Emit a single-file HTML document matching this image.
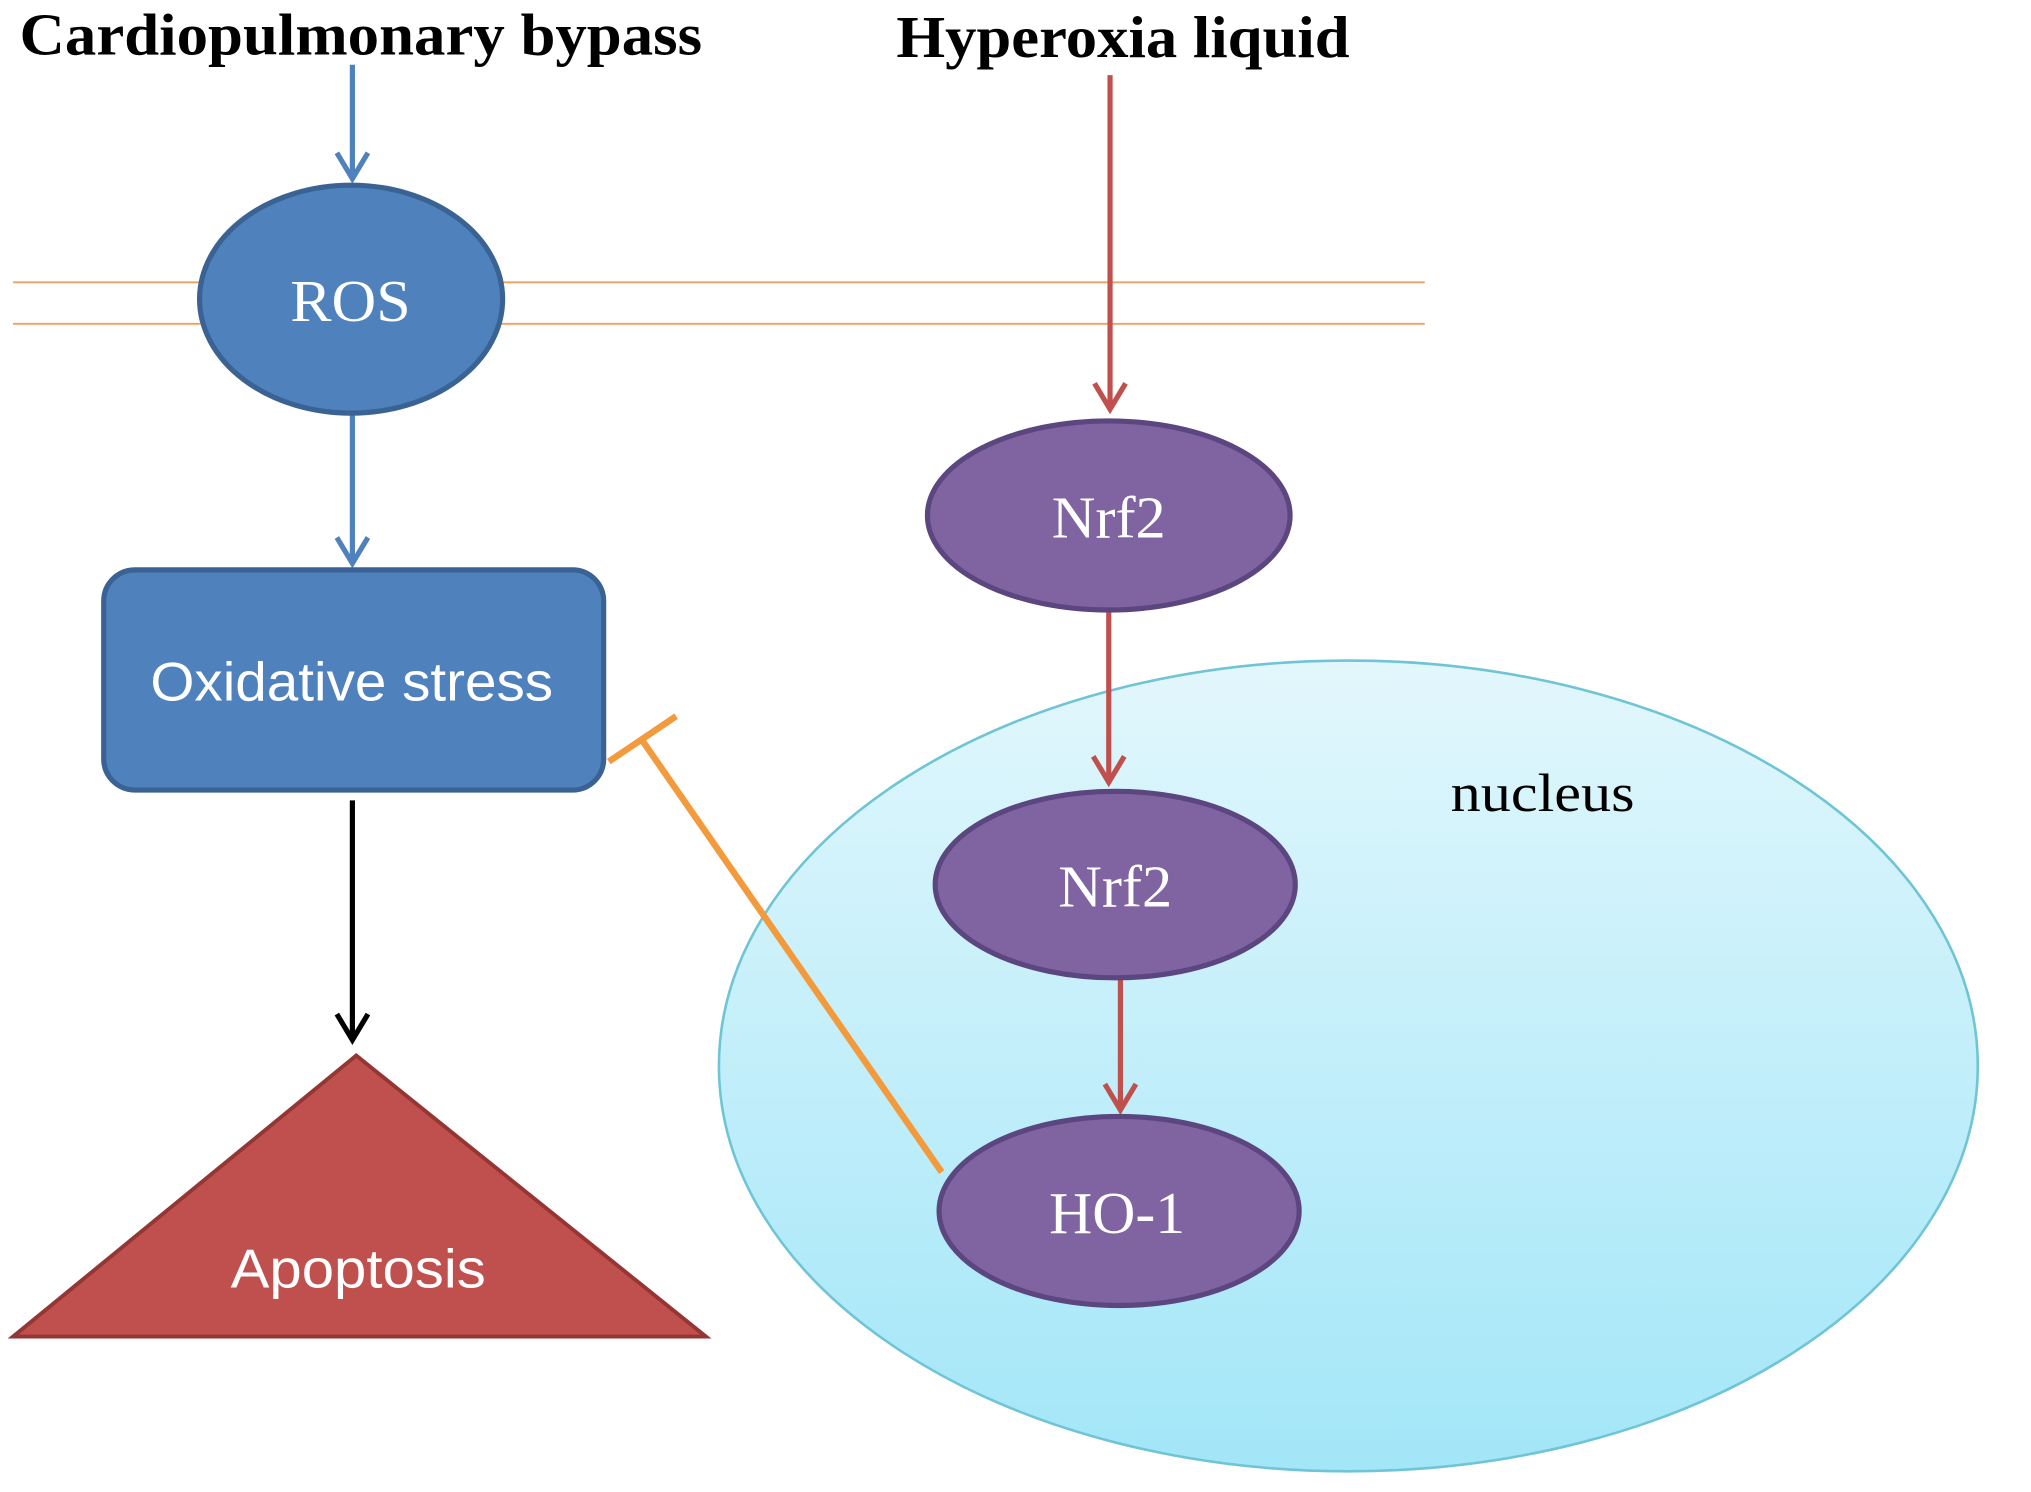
<!DOCTYPE html>
<html><head><style>html,body{margin:0;padding:0;background:#fff}svg{display:block}</style></head>
<body>
<svg width="2031" height="1492" viewBox="0 0 1568 1152" xmlns="http://www.w3.org/2000/svg">
<defs>
<linearGradient id="g" x1="0" y1="0" x2="0" y2="1"><stop offset="0" stop-color="#e2f7fc"/><stop offset="1" stop-color="#a2e6f8"/></linearGradient>
</defs>
<text x="15" y="42" font-family="Liberation Serif, serif" font-weight="bold" font-size="46" textLength="527" lengthAdjust="spacingAndGlyphs">Cardiopulmonary bypass</text>
<text x="692" y="44" font-family="Liberation Serif, serif" font-weight="bold" font-size="46" textLength="350" lengthAdjust="spacingAndGlyphs">Hyperoxia liquid</text>
<ellipse cx="1041" cy="823" rx="486" ry="313" fill="url(#g)" stroke="#6fc4d6" stroke-width="2"/>
<line x1="10" y1="218" x2="1100" y2="218" stroke="#f0a060" stroke-width="1.5"/>
<line x1="10" y1="250" x2="1100" y2="250" stroke="#f0a060" stroke-width="1.5"/>
<g stroke="#4f81bd" stroke-width="4" fill="none">
<line x1="272" y1="50" x2="272" y2="138"/><polyline points="260,118 272,138 284,118"/>
<line x1="272" y1="318" x2="272" y2="435"/><polyline points="260,415 272,435 284,415"/>
</g>
<ellipse cx="271" cy="231" rx="117" ry="88" fill="#4f81bd" stroke="#3a6394" stroke-width="4"/>
<text x="224" y="248" font-family="Liberation Serif, serif" font-size="46" fill="#fff" textLength="93" lengthAdjust="spacingAndGlyphs">ROS</text>
<rect x="80" y="440" width="386" height="170" rx="24" fill="#4f81bd" stroke="#3a6394" stroke-width="4"/>
<text x="116" y="541" font-family="Liberation Sans, sans-serif" font-size="42" fill="#fff" textLength="311" lengthAdjust="spacingAndGlyphs">Oxidative stress</text>
<g stroke="#000" stroke-width="4" fill="none"><line x1="272" y1="618" x2="272" y2="803"/><polyline points="260,783 272,803 284,783"/></g>
<polygon points="275,815 10,1032 545,1032" fill="#c0504d" stroke="#943634" stroke-width="3"/>
<text x="178" y="994" font-family="Liberation Sans, sans-serif" font-size="42" fill="#fff" textLength="197" lengthAdjust="spacingAndGlyphs">Apoptosis</text>
<g stroke="#c0504d" stroke-width="4" fill="none">
<line x1="857" y1="58" x2="857" y2="316"/><polyline points="845,296 857,316 869,296"/>
<line x1="856" y1="472" x2="856" y2="604"/><polyline points="844,584 856,604 868,584"/>
<line x1="865" y1="755" x2="865" y2="857"/><polyline points="853,837 865,857 877,837"/>
</g>
<g fill="#8064a2" stroke="#5c4680" stroke-width="4">
<ellipse cx="856" cy="398" rx="140" ry="73"/>
<ellipse cx="861" cy="683" rx="139" ry="72"/>
<ellipse cx="864" cy="935" rx="139" ry="73"/>
</g>
<g font-family="Liberation Serif, serif" font-size="46" fill="#fff">
<text x="812" y="415" textLength="88" lengthAdjust="spacingAndGlyphs">Nrf2</text>
<text x="817" y="700" textLength="88" lengthAdjust="spacingAndGlyphs">Nrf2</text>
<text x="810" y="952" textLength="105" lengthAdjust="spacingAndGlyphs">HO-1</text>
</g>
<text x="1120" y="626" font-family="Liberation Serif, serif" font-size="42" textLength="142" lengthAdjust="spacingAndGlyphs">nucleus</text>
<g stroke="#f39a3c" stroke-width="5" fill="none"><line x1="727" y1="905" x2="496" y2="572"/><line x1="470" y1="588" x2="522" y2="553"/></g>
</svg>
</body></html>
